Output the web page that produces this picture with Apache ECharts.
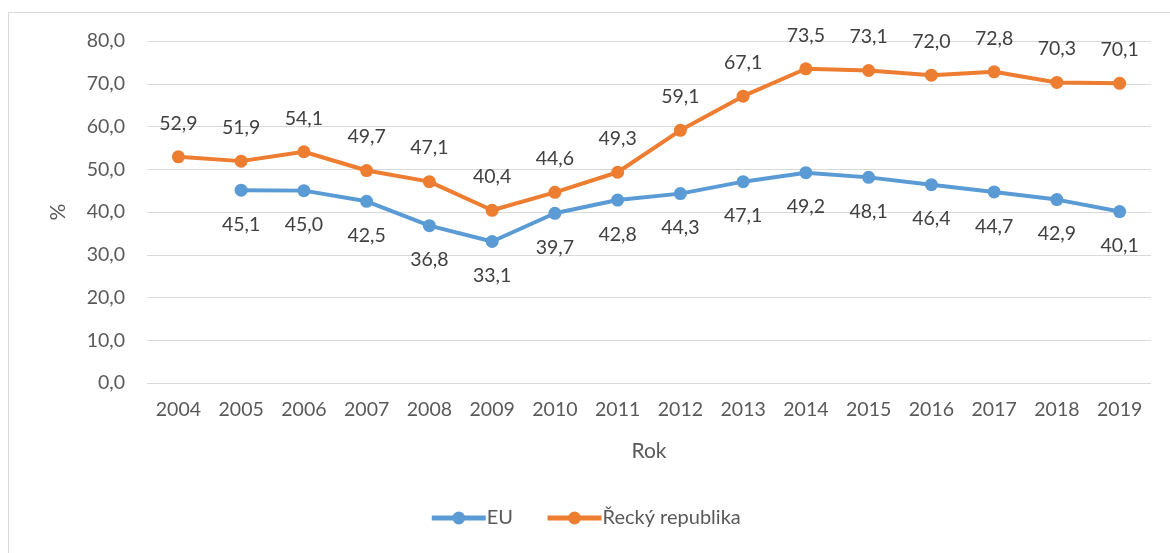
<!DOCTYPE html>
<html>
<head>
<meta charset="utf-8">
<style>
  html, body { margin: 0; padding: 0; background: #fff; }
  #chart { width: 1170px; height: 553px; }
</style>
<script src="https://cdn.jsdelivr.net/npm/echarts@6/dist/echarts.min.js"></script>
</head>
<body>
<div id="chart"></div>
<script>
const years = ["2004", "2005", "2006", "2007", "2008", "2009", "2010", "2011",
    "2012", "2013", "2014", "2015", "2016", "2017", "2018", "2019"];
const euValues = [null, 45.1, 45.0, 42.5, 36.8, 33.1, 39.7, 42.8,
    44.3, 47.1, 49.2, 48.1, 46.4, 44.7, 42.9, 40.1];
const greeceValues = [52.9, 51.9, 54.1, 49.7, 47.1, 40.4, 44.6, 49.3,
    59.1, 67.1, 73.5, 73.1, 72.0, 72.8, 70.3, 70.1];

const font = "Lato, 'Open Sans', sans-serif";
const fmt = v => v.toFixed(1).replace(".", ",");

const chart = echarts.init(document.getElementById("chart"));

chart.setOption({
    animation: false,
    textStyle: { fontFamily: font },
    graphic: [{
        type: "rect",
        shape: { x: 8.5, y: 12.5, width: 1200, height: 600 },
        style: { fill: "none", stroke: "#d9d9d9", lineWidth: 1 },
        silent: true
    }],
    grid: { left: 147, right: 19, top: 41, bottom: 170 },
    legend: {
        bottom: 20,
        left: "center",
        itemWidth: 54,
        itemHeight: 16,
        itemGap: 32,
        lineStyle: { width: 5 },
        textStyle: { fontFamily: font, fontSize: 20, color: "#595959", padding: [0, 0, 0, -4] },
        data: ["EU", "Řecký republika"]
    },
    xAxis: {
        type: "category",
        data: years,
        boundaryGap: true,
        name: "Rok",
        nameLocation: "middle",
        nameGap: 58,
        nameTextStyle: { fontFamily: font, fontSize: 21, color: "#595959" },
        axisLine: { show: false },
        axisTick: { show: false },
        axisLabel: { fontFamily: font, fontSize: 19.5, color: "#595959", margin: 17 }
    },
    yAxis: {
        type: "value",
        min: 0,
        max: 80,
        interval: 10,
        name: "%",
        nameLocation: "middle",
        nameGap: 78,
        nameRotate: 90,
        nameTextStyle: { fontFamily: font, fontSize: 21, color: "#595959" },
        axisLabel: {
            fontFamily: font, fontSize: 19.5, color: "#595959", margin: 22,
            formatter: v => fmt(v)
        },
        splitLine: { lineStyle: { color: "#d9d9d9", width: 1 } }
    },
    series: [
        {
            name: "EU",
            type: "line",
            data: euValues,
            color: "#5b9bd5",
            symbol: "circle",
            symbolSize: 13,
            lineStyle: { width: 4 },
            label: {
                show: true, position: "bottom", distance: 18,
                fontFamily: font, fontSize: 19.5, color: "#404040",
                formatter: p => fmt(p.value)
            }
        },
        {
            name: "Řecký republika",
            type: "line",
            data: greeceValues,
            color: "#ed7d31",
            symbol: "circle",
            symbolSize: 13,
            lineStyle: { width: 4 },
            label: {
                show: true, position: "top", distance: 17,
                fontFamily: font, fontSize: 19.5, color: "#404040",
                formatter: p => fmt(p.value)
            }
        }
    ]
});
</script>
</body>
</html>
